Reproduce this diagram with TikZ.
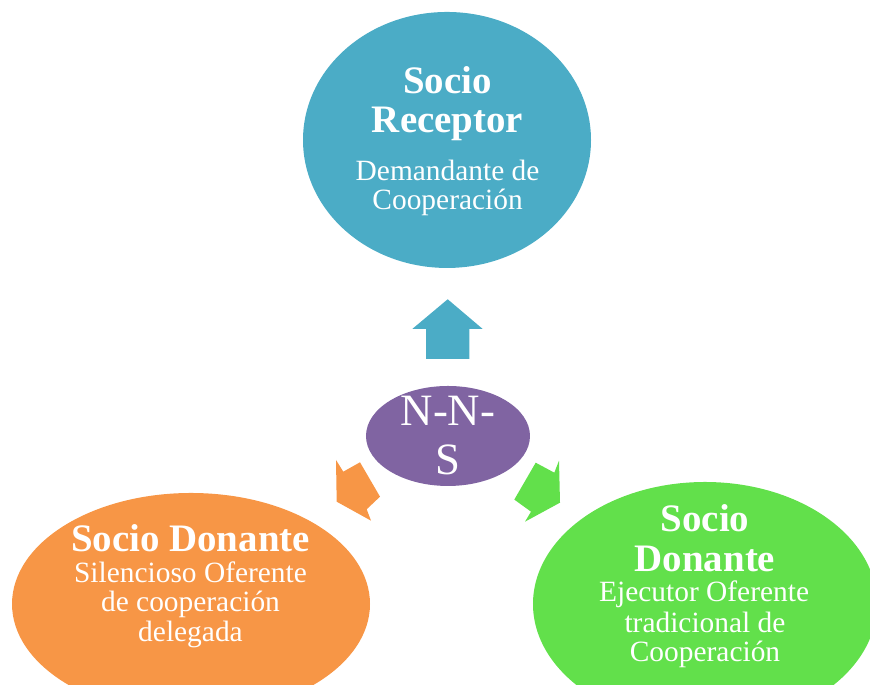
\documentclass[tikz,border=0pt]{standalone}
\usepackage{fontspec}
\setmainfont{Liberation Serif}
\usetikzlibrary{shapes.geometric}
\definecolor{receptorblue}{HTML}{4BACC6}
\definecolor{nnspurple}{HTML}{8064A2}
\definecolor{silentorange}{HTML}{F79646}
\definecolor{executorgreen}{HTML}{62E04B}
\begin{document}
\begin{tikzpicture}
[
receptorcircle/.style={ellipse, fill=receptorblue, minimum width=9.6cm, minimum height=8.533cm, inner sep=0},
nnscircle/.style={ellipse, fill=nnspurple, minimum width=5.467cm, minimum height=3.333cm, inner sep=0},
silentcircle/.style={ellipse, fill=silentorange, minimum width=11.933cm, minimum height=7.4cm, inner sep=0},
executorcircle/.style={ellipse, fill=executorgreen, minimum width=11.467cm, minimum height=8.133cm, inner sep=0},
titleline/.style={anchor=base, text=white, inner sep=0, font=\bfseries\fontsize{36.9}{38}\selectfont},
plainline/.style={anchor=base, text=white, inner sep=0, font=\fontsize{27.9}{29}\selectfont},
nnsline/.style={anchor=base, text=white, inner sep=0, font=\fontsize{42.5}{46}\selectfont}
]
\useasboundingbox (0,0) rectangle (29,22.833);
\clip (0,0) rectangle (29,22.833);
%Nodes
\node[receptorcircle] at(14.9,18.167)	(r) {};
\node[nnscircle] at(14.933,8.3)		(n) {};
\node[silentcircle] at(6.367,2.7)	(o) {};
\node[executorcircle] at(23.5,2.7)	(g) {};
%Arrows
\fill[receptorblue] (14.923,12.857) -- (16.09,11.867) -- (15.643,11.867) -- (15.643,10.867)
  -- (14.2,10.867) -- (14.2,11.867) -- (13.743,11.867) -- cycle;
\fill[silentorange] (12.0,7.423) -- (11.443,7.11) -- (11.2,7.5) -- (11.223,6.11)
  -- (12.367,5.477) -- (12.223,5.857) -- (12.667,6.277) -- cycle;
\fill[executorgreen] (17.857,7.41) -- (18.477,7.077) -- (18.633,7.477) -- (18.667,6.077)
  -- (17.5,5.443) -- (17.7,5.777) -- (17.143,6.18) -- cycle;
%Texts
\node[titleline]	(r1) at(14.92,19.7) {Socio};
\node[titleline]	(r2) at(14.92,18.4) {Receptor};
\node[plainline]	(r3) at(14.92,16.8) {Demandante de};
\node[plainline]	(r4) at(14.92,15.833) {Cooperación};
\node[nnsline]		(n1) at(14.933,8.633) {N-N-};
\node[nnsline]		(n2) at(14.92,7.0) {S};
\node[titleline]	(o1) at(6.35,4.433) {Socio Donante};
\node[plainline]	(o2) at(6.35,3.4) {Silencioso Oferente};
\node[plainline]	(o3) at(6.35,2.433) {de cooperación};
\node[plainline]	(o4) at(6.35,1.433) {delegada};
\node[titleline]	(g1) at(23.5,5.1) {Socio};
\node[titleline]	(g2) at(23.5,3.767) {Donante};
\node[plainline]	(g3) at(23.47,2.767) {Ejecutor Oferente};
\node[plainline]	(g4) at(23.5,1.733) {tradicional de};
\node[plainline]	(g5) at(23.5,0.767) {Cooperación};
\end{tikzpicture}
\end{document}
